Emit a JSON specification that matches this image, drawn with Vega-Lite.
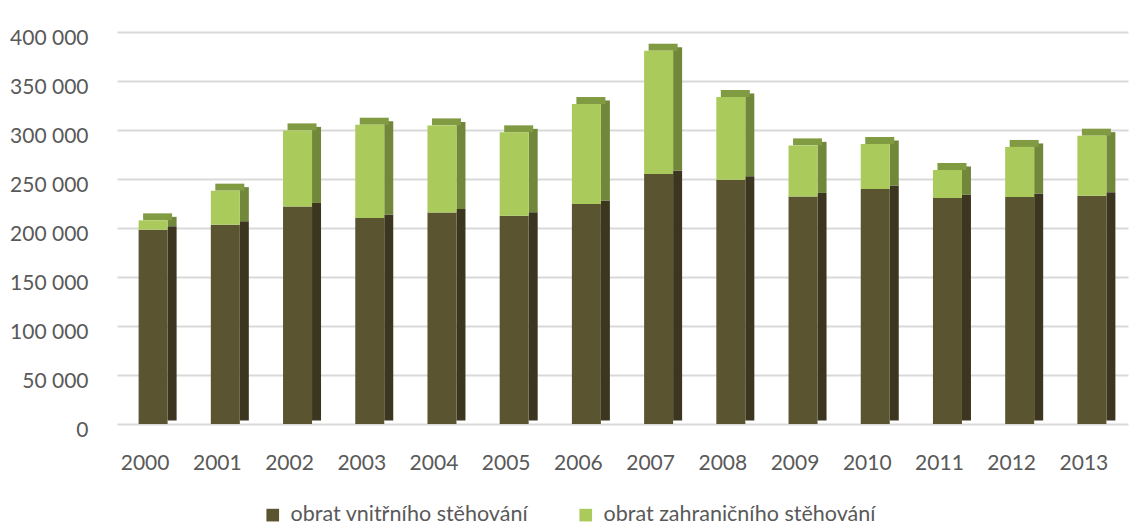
{
  "$schema": "https://vega.github.io/schema/vega-lite/v6.json",
  "width": 1011,
  "height": 392,
  "autosize": {"type": "none"},
  "padding": {"left": 117, "top": 32, "right": 4, "bottom": 105},
  "background": "white",
  "config": {
    "view": {"stroke": null},
    "font": "Lato",
    "axis": {"labelFont": "Lato", "labelColor": "#595959", "labelFontSize": 21}
  },
  "data": {
    "values": [
      {"year": "2000", "series": "obrat vnitřního stěhování", "value": 198300},
      {"year": "2000", "series": "obrat zahraničního stěhování", "value": 9500},
      {"year": "2001", "series": "obrat vnitřního stěhování", "value": 203400},
      {"year": "2001", "series": "obrat zahraničního stěhování", "value": 34700},
      {"year": "2002", "series": "obrat vnitřního stěhování", "value": 222000},
      {"year": "2002", "series": "obrat zahraničního stěhování", "value": 77600},
      {"year": "2003", "series": "obrat vnitřního stěhování", "value": 210200},
      {"year": "2003", "series": "obrat zahraničního stěhování", "value": 95200},
      {"year": "2004", "series": "obrat vnitřního stěhování", "value": 215900},
      {"year": "2004", "series": "obrat zahraničního stěhování", "value": 88800},
      {"year": "2005", "series": "obrat vnitřního stěhování", "value": 212600},
      {"year": "2005", "series": "obrat zahraničního stěhování", "value": 85000},
      {"year": "2006", "series": "obrat vnitřního stěhování", "value": 224500},
      {"year": "2006", "series": "obrat zahraničního stěhování", "value": 102000},
      {"year": "2007", "series": "obrat vnitřního stěhování", "value": 255100},
      {"year": "2007", "series": "obrat zahraničního stěhování", "value": 125800},
      {"year": "2008", "series": "obrat vnitřního stěhování", "value": 249300},
      {"year": "2008", "series": "obrat zahraničního stěhování", "value": 84400},
      {"year": "2009", "series": "obrat vnitřního stěhování", "value": 232200},
      {"year": "2009", "series": "obrat zahraničního stěhování", "value": 52100},
      {"year": "2010", "series": "obrat vnitřního stěhování", "value": 239800},
      {"year": "2010", "series": "obrat zahraničního stěhování", "value": 45900},
      {"year": "2011", "series": "obrat vnitřního stěhování", "value": 230600},
      {"year": "2011", "series": "obrat zahraničního stěhování", "value": 28600},
      {"year": "2012", "series": "obrat vnitřního stěhování", "value": 231600},
      {"year": "2012", "series": "obrat zahraničního stěhování", "value": 51100},
      {"year": "2013", "series": "obrat vnitřního stěhování", "value": 233000},
      {"year": "2013", "series": "obrat zahraničního stěhování", "value": 61200}
    ]
  },
  "transform": [
    {"calculate": "datum.series === 'obrat vnitřního stěhování' ? 0 : 1", "as": "ord"},
    {"joinaggregate": [{"op": "sum", "field": "value", "as": "total"}], "groupby": ["year"]}
  ],
  "encoding": {
    "x": {
      "field": "year", "type": "nominal", "title": null,
      "scale": {"paddingInner": 0, "paddingOuter": 0},
      "axis": {"labelAngle": 0, "domain": false, "ticks": false, "labelPadding": 28, "labelOffset": -8}
    }
  },
  "layer": [
    {
      "mark": {"type": "bar", "width": 9, "xOffset": 19, "yOffset": -3.5},
      "encoding": {
        "y": {"field": "value", "type": "quantitative", "stack": "zero",
          "scale": {"domain": [0, 400000], "nice": false},
          "title": null,
          "axis": {
            "values": [0, 50000, 100000, 150000, 200000, 250000, 300000, 350000, 400000],
            "labelExpr": "replace(format(datum.value, ','), ',', ' ')",
            "domain": false, "ticks": false, "labelPadding": 29, "labelOffset": 6,
            "gridColor": "#d9d9d9", "gridWidth": 2
          }
        },
        "order": {"field": "ord"},
        "fill": {"condition": {"test": "datum.ord === 0", "value": "#3c3620"}, "value": "#71873a"}
      }
    },
    {
      "transform": [{"filter": "datum.ord === 1"}],
      "mark": {"type": "tick", "size": 29, "thickness": 7, "xOffset": 4.5, "yOffset": -3.5, "color": "#819b43", "opacity": 1},
      "encoding": {
        "y": {"field": "total", "type": "quantitative"}
      }
    },
    {
      "mark": {"type": "bar", "width": 29},
      "encoding": {
        "y": {"field": "value", "type": "quantitative", "stack": "zero"},
        "order": {"field": "ord"},
        "color": {"field": "series", "type": "nominal",
          "scale": {"domain": ["obrat vnitřního stěhování", "obrat zahraničního stěhování"], "range": ["#5a5430", "#aacb5b"]},
          "legend": {
            "title": null, "orient": "none", "direction": "horizontal",
            "legendX": 145, "legendY": 472,
            "symbolType": "square", "symbolSize": 160, "symbolStrokeWidth": 0,
            "labelFont": "Lato", "labelFontSize": 21.5, "labelColor": "#595959",
            "labelOffset": 7, "columnPadding": 46, "labelLimit": 400
          }
        }
      }
    }
  ]
}
